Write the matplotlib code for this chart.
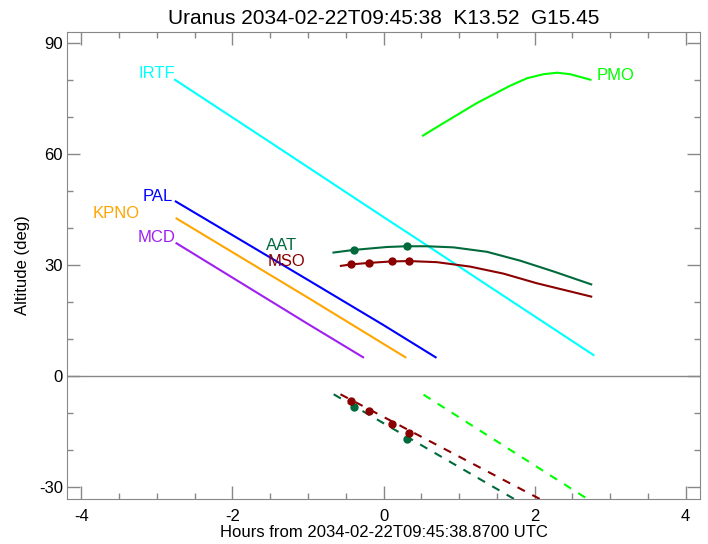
import matplotlib
matplotlib.use("Agg")
import matplotlib.pyplot as plt
from matplotlib.ticker import MultipleLocator

plt.rcParams["font.family"] = ["Liberation Sans", "DejaVu Sans"]
plt.rcParams["axes.unicode_minus"] = False

# station tracks above horizon (hours, altitude deg)
irtf_h = [-2.76, -1.5, 0.0, 0.6, 1.5, 2.78]
irtf_alt = [80.1, 63.2, 43.0, 35.0, 22.9, 5.7]
pal_h = [-2.75, -1.0, 0.0, 0.69]
pal_alt = [47.2, 26.0, 13.8, 5.1]
kpno_h = [-2.74, -1.0, 0.29]
kpno_alt = [42.6, 21.2, 5.1]
mcd_h = [-2.74, -1.0, -0.27]
mcd_alt = [35.9, 14.1, 5.1]
aat_h = [-0.662, -0.397, 0.045, 0.305, 0.575, 0.927, 1.37, 1.81, 2.25, 2.75]
aat_alt = [33.4, 34.1, 34.9, 35.1, 35.1, 34.8, 33.6, 31.2, 28.3, 24.8]
mso_h = [-0.564, -0.428, -0.193, 0.106, 0.340, 0.707, 1.148, 1.589, 2.03, 2.75]
mso_alt = [29.8, 30.2, 30.6, 31.0, 31.1, 30.8, 29.6, 27.7, 25.1, 21.5]
pmo_h = [0.522, 0.795, 1.237, 1.678, 1.90, 2.12, 2.30, 2.47, 2.74]
pmo_alt = [65.0, 68.4, 73.8, 78.5, 80.5, 81.6, 82.0, 81.6, 80.1]

# below-horizon tracks (dashed)
aat_low_h = [-0.66, 1.73]
aat_low_alt = [-4.9, -33.2]
mso_low_h = [-0.57, 2.07]
mso_low_alt = [-4.9, -33.2]
pmo_low_h = [0.53, 2.70]
pmo_low_alt = [-5.0, -33.2]

# observation markers
aat_obs_h = [-0.397, 0.305]
aat_obs_up = [34.1, 35.1]
aat_obs_low = [-8.4, -16.9]
mso_obs_h = [-0.428, -0.193, 0.106, 0.340]
mso_obs_up = [30.2, 30.6, 31.0, 31.1]
mso_obs_low = [-6.7, -9.4, -12.9, -15.4]

c_irtf = "#00FFFF"
c_pal = "#0000FF"
c_kpno = "#FFA500"
c_mcd = "#A020F0"
c_aat = "#006A3C"
c_mso = "#8B0000"
c_pmo = "#00FF00"

fig = plt.figure(figsize=(7.08, 5.44), dpi=100)
ax = fig.add_axes([67 / 708, 1 - 499 / 544, 633 / 708, 467 / 544])
ax.set_xlim(-4.19, 4.19)
ax.set_ylim(-33.2, 93.0)

lw = 1.5
ax.axhline(0, color="#888888", lw=1, zorder=1)
ax.plot(irtf_h, irtf_alt, color=c_irtf, lw=lw)
ax.plot(pal_h, pal_alt, color=c_pal, lw=lw)
ax.plot(kpno_h, kpno_alt, color=c_kpno, lw=lw)
ax.plot(mcd_h, mcd_alt, color=c_mcd, lw=lw)
ax.plot(aat_h, aat_alt, color=c_aat, lw=lw)
ax.plot(mso_h, mso_alt, color=c_mso, lw=lw)
ax.plot(pmo_h, pmo_alt, color=c_pmo, lw=lw)

dash = (0, (4, 4))
ax.plot(aat_low_h, aat_low_alt, color=c_aat, lw=lw, ls=dash)
ax.plot(mso_low_h, mso_low_alt, color=c_mso, lw=lw, ls=dash)
ax.plot(pmo_low_h, pmo_low_alt, color=c_pmo, lw=lw, ls=dash)

ax.plot(aat_obs_h, aat_obs_up, "o", color=c_aat, ms=5)
ax.plot(aat_obs_h, aat_obs_low, "o", color=c_aat, ms=5)
ax.plot(mso_obs_h, mso_obs_up, "o", color=c_mso, ms=5)
ax.plot(mso_obs_h, mso_obs_low, "o", color=c_mso, ms=5)

lbl = dict(fontsize=12, va="center")
ax.text(-2.76, 81.8, "IRTF", color=c_irtf, ha="right", **lbl)
ax.text(-2.79, 48.5, "PAL", color=c_pal, ha="right", **lbl)
ax.text(-3.23, 44.0, "KPNO", color=c_kpno, ha="right", **lbl)
ax.text(-2.76, 37.4, "MCD", color=c_mcd, ha="right", **lbl)
ax.text(-1.555, 35.3, "AAT", color=c_aat, ha="left", **lbl)
ax.text(-1.54, 30.9, "MSO", color=c_mso, ha="left", **lbl)
ax.text(2.82, 81.2, "PMO", color=c_pmo, ha="left", **lbl)

ax.xaxis.set_major_locator(MultipleLocator(2))
ax.xaxis.set_minor_locator(MultipleLocator(0.5))
ax.yaxis.set_major_locator(MultipleLocator(30))
ax.yaxis.set_minor_locator(MultipleLocator(10))
ax.tick_params(which="both", direction="in", top=True, right=True,
               color="#888888", labelsize=12, labelcolor="black")
ax.tick_params(which="major", length=9.5, width=1)
ax.tick_params(which="minor", length=4.5, width=1)
ax.tick_params(axis="x", pad=7)
ax.tick_params(axis="y", pad=3)
for s in ax.spines.values():
    s.set_color("#888888")

ax.set_xlabel("Hours from 2034-02-22T09:45:38.8700 UTC", fontsize=12, labelpad=1)
ax.set_ylabel("Altitude (deg)", fontsize=12, labelpad=6)
ax.set_title("Uranus 2034-02-22T09:45:38  K13.52  G15.45", fontsize=15, pad=6)

fig.savefig("out.png", dpi=100)
